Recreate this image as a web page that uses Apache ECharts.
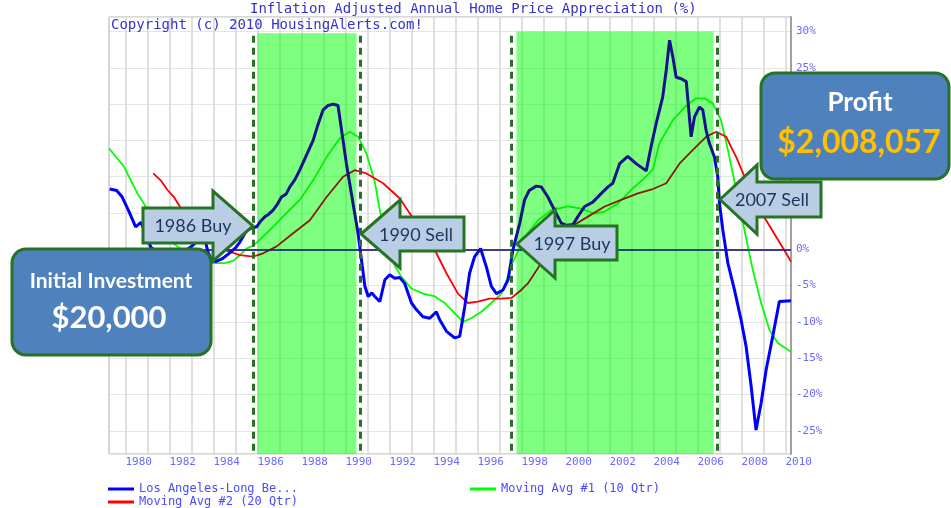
<!DOCTYPE html>
<html><head><meta charset="utf-8">
<script src="https://cdn.jsdelivr.net/npm/echarts@6/dist/echarts.min.js"></script>
<style>html,body{margin:0;padding:0;background:#fff}#c{width:951px;height:508px}</style>
</head><body><div id="c"></div>
<script>
// ---- values: [year, % appreciation] ----
const laPoints = [[1979.28,8.3],[1979.6,8.1],[1979.85,7.2],[1980.16,5.2],[1980.46,3.1],[1980.7,3.7],[1980.95,1.9],[1981.15,0.3],[1981.5,-0.6],[1982.0,-1.0],[1982.5,-0.6],[1983.0,0.4],[1983.45,1.6],[1983.6,1.5],[1983.75,-0.4],[1983.9,-1.4],[1984.1,-1.7],[1984.4,-1.3],[1984.7,-0.6],[1985.0,0.2],[1985.2,1.0],[1985.5,2.6],[1985.73,2.9],[1985.96,3.1],[1986.15,3.9],[1986.34,4.5],[1986.5,4.8],[1986.71,5.4],[1986.9,6.2],[1987.09,7.2],[1987.3,7.6],[1987.47,8.6],[1987.7,9.6],[1987.92,10.9],[1988.2,12.8],[1988.53,15.0],[1988.75,17.2],[1988.98,19.2],[1989.2,19.8],[1989.44,20.0],[1989.66,19.8],[1990.04,11.8],[1990.57,2.2],[1990.88,-5.1],[1991.03,-6.5],[1991.2,-6.0],[1991.33,-6.5],[1991.56,-7.2],[1991.79,-4.2],[1992.01,-3.5],[1992.24,-4.0],[1992.47,-3.9],[1992.69,-4.7],[1993.0,-7.4],[1993.22,-8.3],[1993.52,-9.3],[1993.83,-9.5],[1994.13,-8.6],[1994.28,-9.7],[1994.59,-11.3],[1994.96,-12.2],[1995.19,-12.0],[1995.42,-7.9],[1995.64,-3.3],[1995.87,-1.0],[1996.14,0.1],[1996.4,-2.4],[1996.63,-5.1],[1996.86,-6.1],[1997.16,-5.6],[1997.39,-4.2],[1997.61,-0.1],[1997.92,3.6],[1998.14,6.8],[1998.35,8.1],[1998.67,8.7],[1998.9,8.6],[1999.2,7.2],[1999.5,5.4],[1999.81,3.6],[2000.04,3.3],[2000.34,3.4],[2000.56,4.5],[2000.87,5.9],[2001.24,6.5],[2001.63,7.7],[2001.93,8.6],[2002.15,9.1],[2002.46,11.8],[2002.83,12.8],[2003.21,11.8],[2003.67,10.8],[2003.9,14.3],[2004.12,17.3],[2004.42,21.0],[2004.58,24.7],[2004.73,28.8],[2004.88,26.5],[2005.03,23.7],[2005.26,23.5],[2005.49,23.1],[2005.71,15.5],[2005.86,18.2],[2006.09,19.6],[2006.24,19.2],[2006.39,16.4],[2006.54,14.6],[2006.77,12.7],[2006.92,10.0],[2007.0,6.3],[2007.15,2.7],[2007.38,-1.9],[2007.68,-5.6],[2007.98,-9.7],[2008.21,-13.4],[2008.44,-18.9],[2008.66,-24.9],[2008.89,-21.2],[2009.12,-16.6],[2009.42,-12.0],[2009.72,-7.2],[2010.25,-7.1]];
const ma10Points = [[1979.25,13.9],[1979.63,12.5],[1979.93,11.4],[1980.24,9.5],[1980.54,7.7],[1980.84,6.3],[1981.2,4.3],[1981.6,2.4],[1982.0,1.2],[1982.4,0.3],[1982.8,-0.6],[1983.2,-1.3],[1983.6,-1.7],[1984.0,-1.9],[1984.5,-1.9],[1984.9,-1.6],[1985.2,-0.8],[1985.5,0.1],[1985.8,0.5],[1986.1,1.3],[1986.71,3.1],[1987.32,5.0],[1987.92,6.8],[1988.53,9.5],[1989.14,12.7],[1989.74,15.3],[1990.2,16.2],[1990.57,15.5],[1990.95,13.2],[1991.33,9.3],[1991.56,5.4],[1991.94,-0.1],[1992.25,-2.3],[1992.54,-3.8],[1993.0,-5.4],[1993.52,-6.1],[1994.06,-6.5],[1994.51,-7.4],[1994.96,-8.8],[1995.34,-10.0],[1995.72,-9.5],[1996.18,-8.6],[1996.63,-7.4],[1997.09,-6.1],[1997.3,-4.5],[1997.54,-2.2],[1997.84,-0.3],[1998.29,2.2],[1998.75,4.0],[1999.36,5.4],[2000.11,5.9],[2000.72,5.6],[2001.32,4.9],[2001.78,5.2],[2002.38,6.3],[2002.99,8.2],[2003.59,9.8],[2003.97,11.0],[2004.27,14.6],[2004.88,17.8],[2005.49,19.8],[2005.94,20.8],[2006.32,20.8],[2006.69,20.1],[2007.07,17.8],[2007.38,13.7],[2007.76,8.2],[2008.13,2.7],[2008.51,-2.8],[2008.89,-7.4],[2009.27,-11.1],[2009.65,-12.9],[2010.25,-14.1]];
const ma20Points = [[1981.26,10.45],[1981.6,9.5],[1981.9,8.2],[1982.2,7.2],[1982.47,5.9],[1983.0,4.0],[1983.5,2.2],[1984.0,0.8],[1984.6,-0.2],[1985.2,-0.8],[1985.8,-1.0],[1986.26,-0.55],[1986.87,0.4],[1987.62,2.2],[1988.38,4.0],[1989.14,7.2],[1989.89,10.0],[1990.42,10.9],[1990.95,10.45],[1991.71,9.1],[1992.47,7.0],[1993.0,4.6],[1993.52,2.2],[1994.06,-0.1],[1994.59,-3.3],[1995.11,-6.1],[1995.57,-7.4],[1996.02,-7.2],[1996.55,-6.8],[1997.09,-6.8],[1997.54,-6.7],[1997.99,-5.6],[1998.29,-4.7],[1998.9,-1.9],[1999.5,0.8],[2000.26,3.1],[2001.02,4.5],[2001.78,5.9],[2002.53,6.8],[2003.29,7.7],[2003.97,8.3],[2004.58,9.1],[2005.18,11.8],[2005.79,13.7],[2006.39,15.5],[2006.85,16.2],[2007.3,15.5],[2007.76,12.7],[2008.21,9.5],[2008.66,6.3],[2009.12,4.0],[2009.58,1.7],[2010.03,-0.55],[2010.25,-1.7]];

const seriesNames = ['Los Angeles-Long Be...', 'Moving Avg #1 (10 Qtr)', 'Moving Avg #2 (20 Qtr)'];
const holdStart = [1986.0, 1997.77];   // shaded "holding" periods
const holdEnd   = [1990.5, 2006.73];
const signalYears = [1985.8, 1990.68, 1997.54, 2006.89]; // dashed buy/sell lines
const xRange = [1979.25, 2010.25];
const yRange = [-28.2, 32.0];

const MONO = '"DejaVu Sans Mono", "Liberation Mono", monospace';
const axisBlue = '#6a6aff';
const titleBlue = '#3333cc';

function zonePieces(outC, inC) {
  const p = [];
  let prev = null;
  for (let i = 0; i < holdStart.length; i++) {
    const o = {lt: holdStart[i], color: outC};
    if (prev !== null) o.gte = prev;
    p.push(o);
    p.push({gte: holdStart[i], lt: holdEnd[i], color: inC});
    prev = holdEnd[i];
  }
  p.push({gte: prev, color: outC});
  return p;
}

const chart = echarts.init(document.getElementById('c'), null, {renderer: 'canvas'});

const areaData = holdStart.map((s, i) => [{xAxis: s, yAxis: i === 0 ? 29.75 : 30.0}, {xAxis: holdEnd[i], yAxis: yRange[0]}]);
const dashData = signalYears.map(y => [{coord: [y, 29.4]}, {coord: [y, yRange[0]]}]);

// annotation shapes (PowerPoint-style overlays)
const arrowStroke = '#267326';
const arrowFill = '#b9cde5';
function rightArrow(x0, x1, tip, by0, by1, hy0, hy1) {
  const m = (hy0 + hy1) / 2;
  return [[x0,by0],[x1,by0],[x1,hy0],[tip,m],[x1,hy1],[x1,by1],[x0,by1]];
}
function leftArrow(tip, x1, xr, by0, by1, hy0, hy1) {
  const m = (hy0 + hy1) / 2;
  return [[tip,m],[x1,hy0],[x1,by0],[xr,by0],[xr,by1],[x1,by1],[x1,hy1]];
}
const arrows = [
  {pts: rightArrow(143, 213, 253, 208, 243, 191, 261), text: '1986 Buy', tx: 193, ty: 226},
  {pts: leftArrow(361, 400, 464, 217, 251, 200, 268), text: '1990 Sell', tx: 416, ty: 235},
  {pts: leftArrow(517, 555, 617, 226, 260, 210, 278), text: '1997 Buy', tx: 572, ty: 244},
  {pts: leftArrow(720, 757, 821, 182, 217, 165, 234), text: '2007 Sell', tx: 772, ty: 200}
];
const graphics = [];
arrows.forEach(a => {
  graphics.push({type: 'polygon', z: 100, shape: {points: a.pts}, style: {fill: arrowFill, stroke: arrowStroke, lineWidth: 3, lineJoin: 'miter'}});
  graphics.push({type: 'text', z: 101, x: a.tx, y: a.ty, style: {text: a.text, fill: '#1c355e', font: '18px Lato, "Open Sans", sans-serif', align: 'center', verticalAlign: 'middle'}});
});
graphics.push({type: 'rect', z: 100, shape: {x: 12, y: 249, width: 199, height: 106, r: 14}, style: {fill: '#4f81bd', stroke: arrowStroke, lineWidth: 3}});
graphics.push({type: 'text', z: 101, x: 111, y: 281, style: {text: 'Initial Investment', fill: '#ffffff', font: 'bold 21px Lato, "Open Sans", sans-serif', align: 'center', verticalAlign: 'middle'}});
graphics.push({type: 'text', z: 101, x: 109, y: 318, style: {text: '$20,000', fill: '#ffffff', font: 'bold 31px Lato, "Open Sans", sans-serif', align: 'center', verticalAlign: 'middle'}});
graphics.push({type: 'rect', z: 100, shape: {x: 761, y: 73, width: 188, height: 106, r: 14}, style: {fill: '#4f81bd', stroke: arrowStroke, lineWidth: 3}});
graphics.push({type: 'text', z: 101, x: 860, y: 103, style: {text: 'Profit', fill: '#ffffff', font: 'bold 26px Lato, "Open Sans", sans-serif', align: 'center', verticalAlign: 'middle'}});
graphics.push({type: 'text', z: 101, x: 859, y: 143, style: {text: '$2,008,057', fill: '#ffc000', font: 'bold 32px Lato, "Open Sans", sans-serif', align: 'center', verticalAlign: 'middle'}});
graphics.push({type: 'text', z: 50, x: 111, y: 25, style: {text: 'Copyright (c) 2010 HousingAlerts.com!', fill: titleBlue, font: '14px ' + MONO, align: 'left', verticalAlign: 'middle'}});

const legendText = {color: '#4a4aff', fontFamily: MONO, fontSize: 12};
function legendAt(name, color, left, top) {
  return {show: true, left: left, top: top, icon: 'rect', itemWidth: 26, itemHeight: 3, padding: 0, itemGap: 0,
    textStyle: legendText, data: [{name: name, itemStyle: {color: color}, lineStyle: {color: color}}], selectedMode: false};
}

chart.setOption({
  animation: false,
  backgroundColor: '#ffffff',
  title: {text: 'Inflation Adjusted Annual Home Price Appreciation (%)', left: 250, top: 2, padding: 0,
    textStyle: {color: titleBlue, fontFamily: MONO, fontSize: 14, fontWeight: 'normal'}},
  grid: {left: 109, right: 160, top: 17, bottom: 54, show: true, borderColor: '#b0b0b0', borderWidth: 1, containLabel: false},
  legend: [
    legendAt(seriesNames[0], '#0000ff', 108, 483),
    legendAt(seriesNames[1], '#00ff00', 470, 483),
    legendAt(seriesNames[2], '#ff0000', 108, 496)
  ],
  xAxis: {type: 'value', min: xRange[0], max: xRange[1], splitNumber: 31, minInterval: 1, maxInterval: 1,
    axisLine: {show: true, lineStyle: {color: '#a0a0a0', width: 2}},
    axisTick: {show: false},
    axisLabel: {color: axisBlue, fontFamily: MONO, fontSize: 11, align: 'left', margin: 3,
      formatter: v => (Math.abs(v - Math.round(v)) < 1e-6 && Math.round(v) % 2 === 0) ? String(Math.round(v)) : ''},
    splitLine: {show: true, lineStyle: {color: '#d6d6d6', width: 1.5}}},
  yAxis: {type: 'value', position: 'right', min: yRange[0], max: yRange[1], splitNumber: 12, minInterval: 5, maxInterval: 5,
    axisLine: {show: true, lineStyle: {color: '#a0a0a0', width: 2}},
    axisTick: {show: false},
    axisLabel: {color: axisBlue, fontFamily: MONO, fontSize: 11, margin: 5, showMinLabel: false, showMaxLabel: false,
      formatter: v => (Math.abs(v / 5 - Math.round(v / 5)) < 1e-6) ? Math.round(v) + '%' : ''},
    splitLine: {show: true, lineStyle: {color: '#e4e4e4', width: 1}}},
  visualMap: [
    {type: 'piecewise', show: false, seriesIndex: 1, dimension: 0, pieces: zonePieces('#0000ff', '#14148a')},
    {type: 'piecewise', show: false, seriesIndex: 2, dimension: 0, pieces: zonePieces('#00ff00', '#00f000')},
    {type: 'piecewise', show: false, seriesIndex: 3, dimension: 0, pieces: zonePieces('#ff0000', '#8a1a10')}
  ],
  series: [
    {type: 'line', name: 'zones', data: [], z: 1, silent: true,
      markArea: {silent: true, itemStyle: {color: 'rgba(0,255,0,0.5)'}, data: areaData}},
    {type: 'line', name: seriesNames[0], data: laPoints, z: 4, symbol: 'none', lineStyle: {width: 3}},
    {type: 'line', name: seriesNames[1], data: ma10Points, z: 3, symbol: 'none', lineStyle: {width: 1.8}},
    {type: 'line', name: seriesNames[2], data: ma20Points, z: 3, symbol: 'none', lineStyle: {width: 1.8}},
    {type: 'line', name: 'signals', data: [], z: 6, silent: true,
      markLine: {silent: true, symbol: ['none', 'none'], label: {show: false},
        data: dashData.concat([[{coord: [xRange[0], 0], lineStyle: {type: 'solid', color: '#1a1a80', width: 1.5}}, {coord: [xRange[1], 0]}]]),
        lineStyle: {type: [7, 5], width: 3, color: '#2a6e2a'}}}
  ],
  graphic: graphics
});
</script></body></html>
